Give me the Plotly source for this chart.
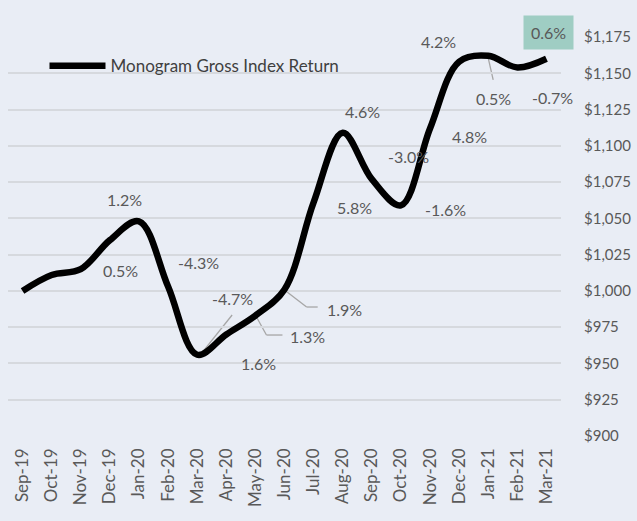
import plotly.graph_objects as go

months = ["Sep-19", "Oct-19", "Nov-19", "Dec-19", "Jan-20", "Feb-20", "Mar-20", "Apr-20",
          "May-20", "Jun-20", "Jul-20", "Aug-20", "Sep-20", "Oct-20", "Nov-20", "Dec-20",
          "Jan-21", "Feb-21", "Mar-21"]
index_value = [1000, 1011, 1015, 1035, 1048, 1003, 956, 970, 983, 1001, 1061, 1109,
               1077, 1059, 1112, 1158, 1162, 1154, 1160]

# return labels (text, x position in category units, y position in $)
label_text = ["1.2%", "0.5%", "-4.3%", "-4.7%", "1.6%", "1.3%", "1.9%", "5.8%", "4.6%",
              "-3.0%", "-1.6%", "4.8%", "4.2%", "0.5%", "-0.7%"]
label_x = [3.49, 3.38, 6.03, 7.2, 8.09, 9.78, 11.05, 11.39, 11.67, 13.25, 14.52, 15.34,
           14.28, 16.17, 18.2]
label_y = [1062.7, 1014.4, 1019.9, 995.1, 950.3, 968.9, 986.9, 1057.2, 1124, 1092.3,
           1055.8, 1106.1, 1172.2, 1132.3, 1133.6]

last_label = "0.6%"
yticks = list(range(900, 1176, 25))

BG = "#e9edf5"
GRID = "#d6d9de"
TXT = "#595959"
FONT = "Lato"

fig = go.Figure()
fig.add_trace(go.Scatter(
    x=months, y=index_value, mode="lines", name="Monogram Gross Index Return",
    line=dict(color="black", width=6.5, shape="spline", smoothing=1),
))

for t, lx, ly in zip(label_text, label_x, label_y):
    fig.add_annotation(x=lx, y=ly, text=t, showarrow=False,
                       font=dict(family=FONT, size=16, color=TXT))

fig.add_annotation(x=18.06, xref="x", y=1.0125, yref="paper", yanchor="middle",
                   text=last_label, showarrow=False, bgcolor="#9fcdc3", borderpad=7,
                   font=dict(family=FONT, size=16, color=TXT))

# leader lines
leaders = [
    [(6.1, 955.8), (7.2, 983.4)],
    [(8.0, 983.4), (8.38, 969.6), (8.93, 969.6)],
    [(9.0, 1000.6), (9.76, 988.9), (10.14, 988.9)],
    [(16.0, 1160.5), (16.17, 1145.4)],
]
for pts in leaders:
    for (x0, y0), (x1, y1) in zip(pts[:-1], pts[1:]):
        fig.add_shape(type="line", x0=x0, y0=y0, x1=x1, y1=y1, xref="x", yref="y",
                      line=dict(color="#a6a6a6", width=1.3), layer="below")

fig.update_layout(
    width=637, height=521,
    margin=dict(l=8, r=76, t=37, b=85),
    paper_bgcolor=BG, plot_bgcolor=BG,
    font=dict(family=FONT, size=15, color=TXT),
    showlegend=True,
    legend=dict(x=0.066, y=0.927, xanchor="left", yanchor="middle",
                bgcolor="rgba(0,0,0,0)", itemwidth=56,
                font=dict(family=FONT, size=17, color="#404040")),
    xaxis=dict(type="category", range=[-0.5, 18.5], tickangle=-90, showgrid=False,
               ticks="", showline=False, zeroline=False, automargin=False,
               tickfont=dict(family=FONT, size=17, color=TXT), ticklabelstandoff=8),
    yaxis=dict(side="right", range=[900, 1175], tickvals=yticks, tickformat="$,",
               showgrid=True, gridcolor=GRID, gridwidth=1.5, zeroline=False,
               showline=False, ticks="", ticklabelstandoff=22, automargin=False,
               tickfont=dict(family=FONT, size=15, color=TXT)),
)

fig.write_html("out.html", config={"displayModeBar": False},
               post_script="document.body.style.margin='0';")
